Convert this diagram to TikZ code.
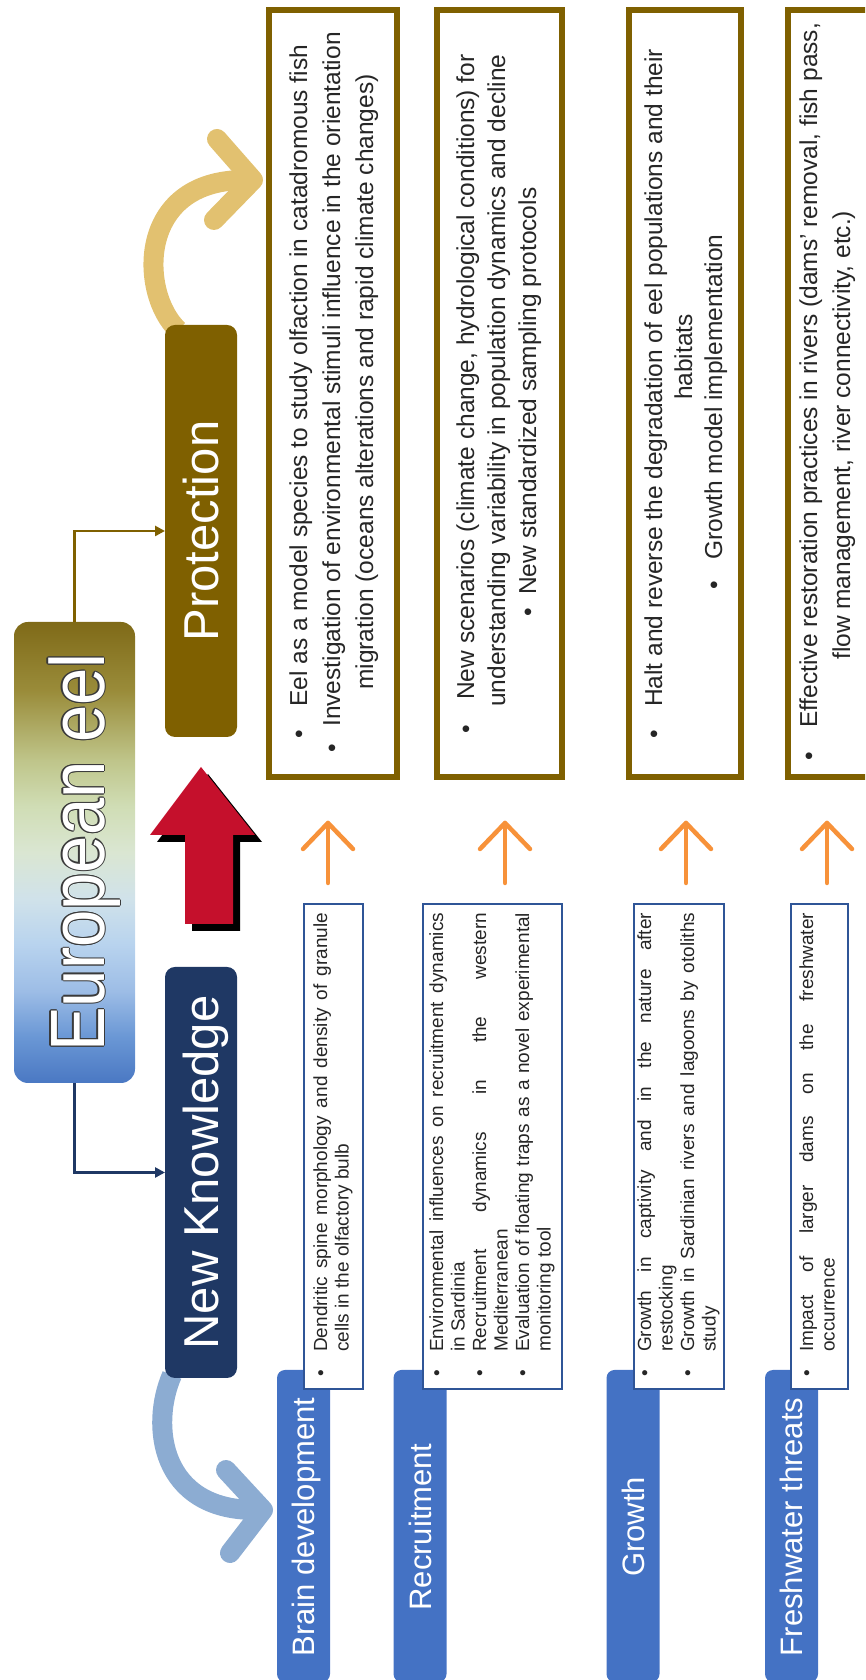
\documentclass[tikz,border=0pt]{standalone}
\usepackage{fontspec}
\usepackage{graphicx}
\setmainfont{Liberation Sans}
\usetikzlibrary{arrows.meta}
\definecolor{navyc}{HTML}{1F3864}
\definecolor{olivec}{HTML}{7F6000}
\definecolor{barblue}{HTML}{4472C4}
\definecolor{lbord}{HTML}{2F5597}
\definecolor{redarr}{HTML}{C5102C}
\definecolor{orangec}{HTML}{F7923A}
\definecolor{goldc}{HTML}{E2C170}
\definecolor{bluec}{HTML}{8CACD2}
\definecolor{txtc}{HTML}{262626}
\definecolor{oltc}{HTML}{3A3A3A}
\definecolor{g0}{HTML}{4A78C3}
\definecolor{g1}{HTML}{6A97D5}
\definecolor{g2}{HTML}{9DBDE6}
\definecolor{g3}{HTML}{B8D3EE}
\definecolor{g4}{HTML}{D0E2EA}
\definecolor{g5}{HTML}{DAE6D2}
\definecolor{g6}{HTML}{D0DDB5}
\definecolor{g7}{HTML}{BFC58A}
\definecolor{g8}{HTML}{9A8C3A}
\definecolor{g9}{HTML}{7F6A18}
\pgfdeclarehorizontalshading{eelshade}{100bp}{color(0bp)=(g0); color(25bp)=(g0); color(30bp)=(g1); color(35bp)=(g2); color(40bp)=(g3); color(45bp)=(g4); color(50bp)=(g5); color(55bp)=(g6); color(60bp)=(g7); color(67.5bp)=(g8); color(75bp)=(g9); color(100bp)=(g9)}
\newcommand{\olt}[1]{%
\rlap{\textcolor{oltc}{\hspace*{-1.3pt}#1}}%
\rlap{\textcolor{oltc}{\hspace*{1.3pt}#1}}%
\rlap{\textcolor{oltc}{\raisebox{1.3pt}{#1}}}%
\rlap{\textcolor{oltc}{\raisebox{-1.3pt}{#1}}}%
\rlap{\textcolor{oltc}{\hspace*{-0.9pt}\raisebox{0.9pt}{#1}}}%
\rlap{\textcolor{oltc}{\hspace*{0.9pt}\raisebox{0.9pt}{#1}}}%
\rlap{\textcolor{oltc}{\hspace*{-0.9pt}\raisebox{-0.9pt}{#1}}}%
\rlap{\textcolor{oltc}{\hspace*{0.9pt}\raisebox{-0.9pt}{#1}}}%
\textcolor{white}{#1}}
\newcommand{\bjl}[1]{\makebox[25pt][l]{\textbullet}\makebox[439pt][s]{#1}}
\newcommand{\bul}[2]{\makebox[#1][l]{\textbullet}#2}
\begin{document}
\begin{tikzpicture}[x=1pt,y=1pt,rotate=90,transform shape,
 rbox/.style={draw=olivec, line width=6pt, fill=white, inner sep=0pt, outer sep=0pt},
 lbox/.style={draw=lbord, line width=2.2pt, fill=white, inner sep=0pt, outer sep=0pt},
 bar/.style={fill=barblue, rounded corners=8pt, inner sep=0pt, outer sep=0pt, minimum width=312pt, minimum height=53pt},
 bartxt/.style={text=white, font=\fontsize{31}{36}\selectfont, inner sep=0pt, anchor=base},
 rtxt/.style={text=txtc, font=\fontsize{24.5}{30}\selectfont, inner sep=0pt, anchor=west},
 ltxt/.style={text=txtc, font=\fontsize{19}{22}\selectfont, inner sep=0pt, anchor=west},
 headbox/.style={rounded corners=10pt, inner sep=0pt, outer sep=0pt, minimum height=72pt},
 headtxt/.style={text=white, font=\fontsize{49}{56}\selectfont, inner sep=0pt, anchor=base},
 conn/.style={line width=2.8pt, -{Triangle[length=10pt,width=10pt]}},
 curvearrow/.style={line width=20pt},
 chev/.style={line width=20pt, line cap=round, line join=round},
 oarrow/.style={draw=orangec, line width=4.5pt, line cap=round, line join=round}
]
\useasboundingbox (0,0) rectangle (1680,-865);
\clip (0,0) rectangle (1680,-865);

% curved arrows (behind the boxes)
\coordinate (gs) at (1350,-178);
\coordinate (ge) at (1500,-245);
\coordinate (gl) at (1460,-214);
\coordinate (gt) at (1500,-253);
\coordinate (gr) at (1541,-217);
\draw[curvearrow, goldc] (gs) .. controls (1385,-140) and (1500,-135) .. (ge);
\draw[chev, goldc] (gl) -- (gt) -- (gr);

\coordinate (bs) at (305,-172);
\coordinate (be) at (170,-255);
\coordinate (bl) at (127,-230);
\coordinate (bt) at (170,-263);
\coordinate (br) at (210,-226);
\draw[curvearrow, bluec] (bs) .. controls (255,-150) and (170,-160) .. (be);
\draw[chev, bluec] (bl) -- (bt) -- (br);

% title
\node[shading=eelshade, shading angle=90, rounded corners=14pt, minimum width=461pt, minimum height=121pt, inner sep=0pt, outer sep=0pt] (title) at (827.5,-74.5) {};
\node[anchor=base, inner sep=0pt, font=\fontsize{77}{80}\selectfont] (titletxt) at (827.5,-104) {\scalebox{0.87}[1]{\olt{European eel}}};

% head boxes
\node[headbox, fill=navyc, minimum width=411pt] (nk) at (507.5,-201) {};
\node[headtxt] (nktxt) at (507.5,-218.5) {New Knowledge};
\node[headbox, fill=olivec, minimum width=412pt] (prot) at (1149,-201) {};
\node[headtxt] (prottxt) at (1149,-218.5) {Protection};

\draw[conn, navyc] (title.west) -| (nk.north);
\draw[conn, olivec] (title.east) -| (prot.north);

% red arrow
\fill[black] (749,-192) -- (838,-192) -- (838,-157) -- (906,-208) -- (838,-262) -- (838,-240) -- (749,-240) -- cycle;
\fill[redarr] (756,-185) -- (845,-185) -- (845,-150) -- (913,-201) -- (845,-255) -- (845,-233) -- (756,-233) -- cycle;

% blue label bars
\node[bar] (b1) at (154,-303.5) {};
\node[bar] (b2) at (154,-420) {};
\node[bar] (b3) at (154,-633) {};
\node[bar] (b4) at (154,-791.5) {};
\node[bartxt] (b1t) at (153,-314.6) {Brain development};
\node[bartxt] (b2t) at (153,-431.1) {Recruitment};
\node[bartxt] (b3t) at (153,-644.1) {Growth};
\node[bartxt] (b4t) at (153,-802.6) {Freshwater threats};

% left boxes
\node[lbox, minimum width=484.5pt, minimum height=58.8pt] (lb1) at (533.5,-333.5) {};
\node[lbox, minimum width=484.5pt, minimum height=138.8pt] (lb2) at (533.5,-492.5) {};
\node[lbox, minimum width=484.5pt, minimum height=89.8pt] (lb3) at (533.5,-679) {};
\node[lbox, minimum width=484.5pt, minimum height=56.8pt] (lb4) at (533.5,-819.5) {};

\node[ltxt] (l1a) at (303,-322.75) {\strut\bjl{Dendritic spine morphology and density of granule}};
\node[ltxt] (l1b) at (328,-344.25) {\strut cells in the olfactory bulb};

\node[ltxt] (l2a) at (303,-438.75) {\strut\bjl{Environmental influences on recruitment dynamics}};
\node[ltxt] (l2b) at (328,-460.25) {\strut in Sardinia};
\node[ltxt] (l2c) at (303,-481.75) {\strut\bjl{Recruitment dynamics in the western}};
\node[ltxt] (l2d) at (328,-503.25) {\strut Mediterranean};
\node[ltxt] (l2e) at (303,-524.75) {\strut\bjl{Evaluation of floating traps as a novel experimental}};
\node[ltxt] (l2f) at (328,-546.25) {\strut monitoring tool};

\node[ltxt] (l3a) at (303,-646.75) {\strut\bjl{Growth in captivity and in the nature after}};
\node[ltxt] (l3b) at (328,-668.25) {\strut restocking};
\node[ltxt] (l3c) at (303,-689.75) {\strut\bjl{Growth in Sardinian rivers and lagoons by otoliths}};
\node[ltxt] (l3d) at (328,-711.25) {\strut study};

\node[ltxt] (l4a) at (303,-808.75) {\strut\bjl{Impact of larger dams on the freshwater}};
\node[ltxt] (l4b) at (328,-830.25) {\strut occurrence};

% orange arrows
\coordinate (o1s) at (797,-328); \coordinate (o1e) at (857,-328);
\coordinate (o2s) at (797,-505); \coordinate (o2e) at (857,-505);
\coordinate (o3s) at (797,-686); \coordinate (o3e) at (857,-686);
\coordinate (o4s) at (797,-827); \coordinate (o4e) at (857,-827);
\coordinate (o1a) at (831,-303); \coordinate (o1b) at (831,-353);
\coordinate (o2a) at (831,-480); \coordinate (o2b) at (831,-530);
\coordinate (o3a) at (831,-661); \coordinate (o3b) at (831,-711);
\coordinate (o4a) at (831,-802); \coordinate (o4b) at (831,-852);
\draw[oarrow] (o1s) -- (o1e); \draw[oarrow] (o1a) -- (o1e) -- (o1b);
\draw[oarrow] (o2s) -- (o2e); \draw[oarrow] (o2a) -- (o2e) -- (o2b);
\draw[oarrow] (o3s) -- (o3e); \draw[oarrow] (o3a) -- (o3e) -- (o3b);
\draw[oarrow] (o4s) -- (o4e); \draw[oarrow] (o4a) -- (o4e) -- (o4b);

% right boxes
\node[rbox, minimum width=767pt, minimum height=128pt] (rb1) at (1286.5,-333) {};
\node[rbox, minimum width=767pt, minimum height=125pt] (rb2) at (1286.5,-499.5) {};
\node[rbox, minimum width=767pt, minimum height=112pt] (rb3) at (1286.5,-685) {};
\node[rbox, minimum width=767pt, minimum height=109pt] (rb4) at (1286.5,-842.5) {};

\node[rtxt] (r1a) at (941,-301) {\strut\bul{32pt}{Eel as a model species to study olfaction in catadromous fish}};
\node[rtxt] (r1b) at (927,-334) {\strut\bul{26pt}{Investigation of environmental stimuli influence in the orientation}};
\node[rtxt] (r1c) at (990,-367) {\strut migration (oceans alterations and rapid climate changes)};

\node[rtxt] (r2a) at (946,-468) {\strut\bul{34pt}{New scenarios (climate change, hydrological conditions) for}};
\node[rtxt] (r2b) at (973,-499) {\strut understanding variability in population dynamics and decline};
\node[rtxt] (r2c) at (1063,-530) {\strut\bul{22pt}{New standardized sampling protocols}};

\node[rtxt] (r3a) at (941,-656) {\strut\bul{32pt}{Halt and reverse the degradation of eel populations and their}};
\node[rtxt, anchor=center] (r3b) at (1323,-686) {\strut habitats};
\node[rtxt] (r3c) at (1090,-716) {\strut\bul{30pt}{Growth model implementation}};

\node[rtxt] (r4a) at (919,-811) {\strut\bul{33pt}{Effective restoration practices in rivers (dams’ removal, fish pass,}};
\node[rtxt] (r4b) at (1020,-844) {\strut flow management, river connectivity, etc.)};
\end{tikzpicture}
\end{document}
